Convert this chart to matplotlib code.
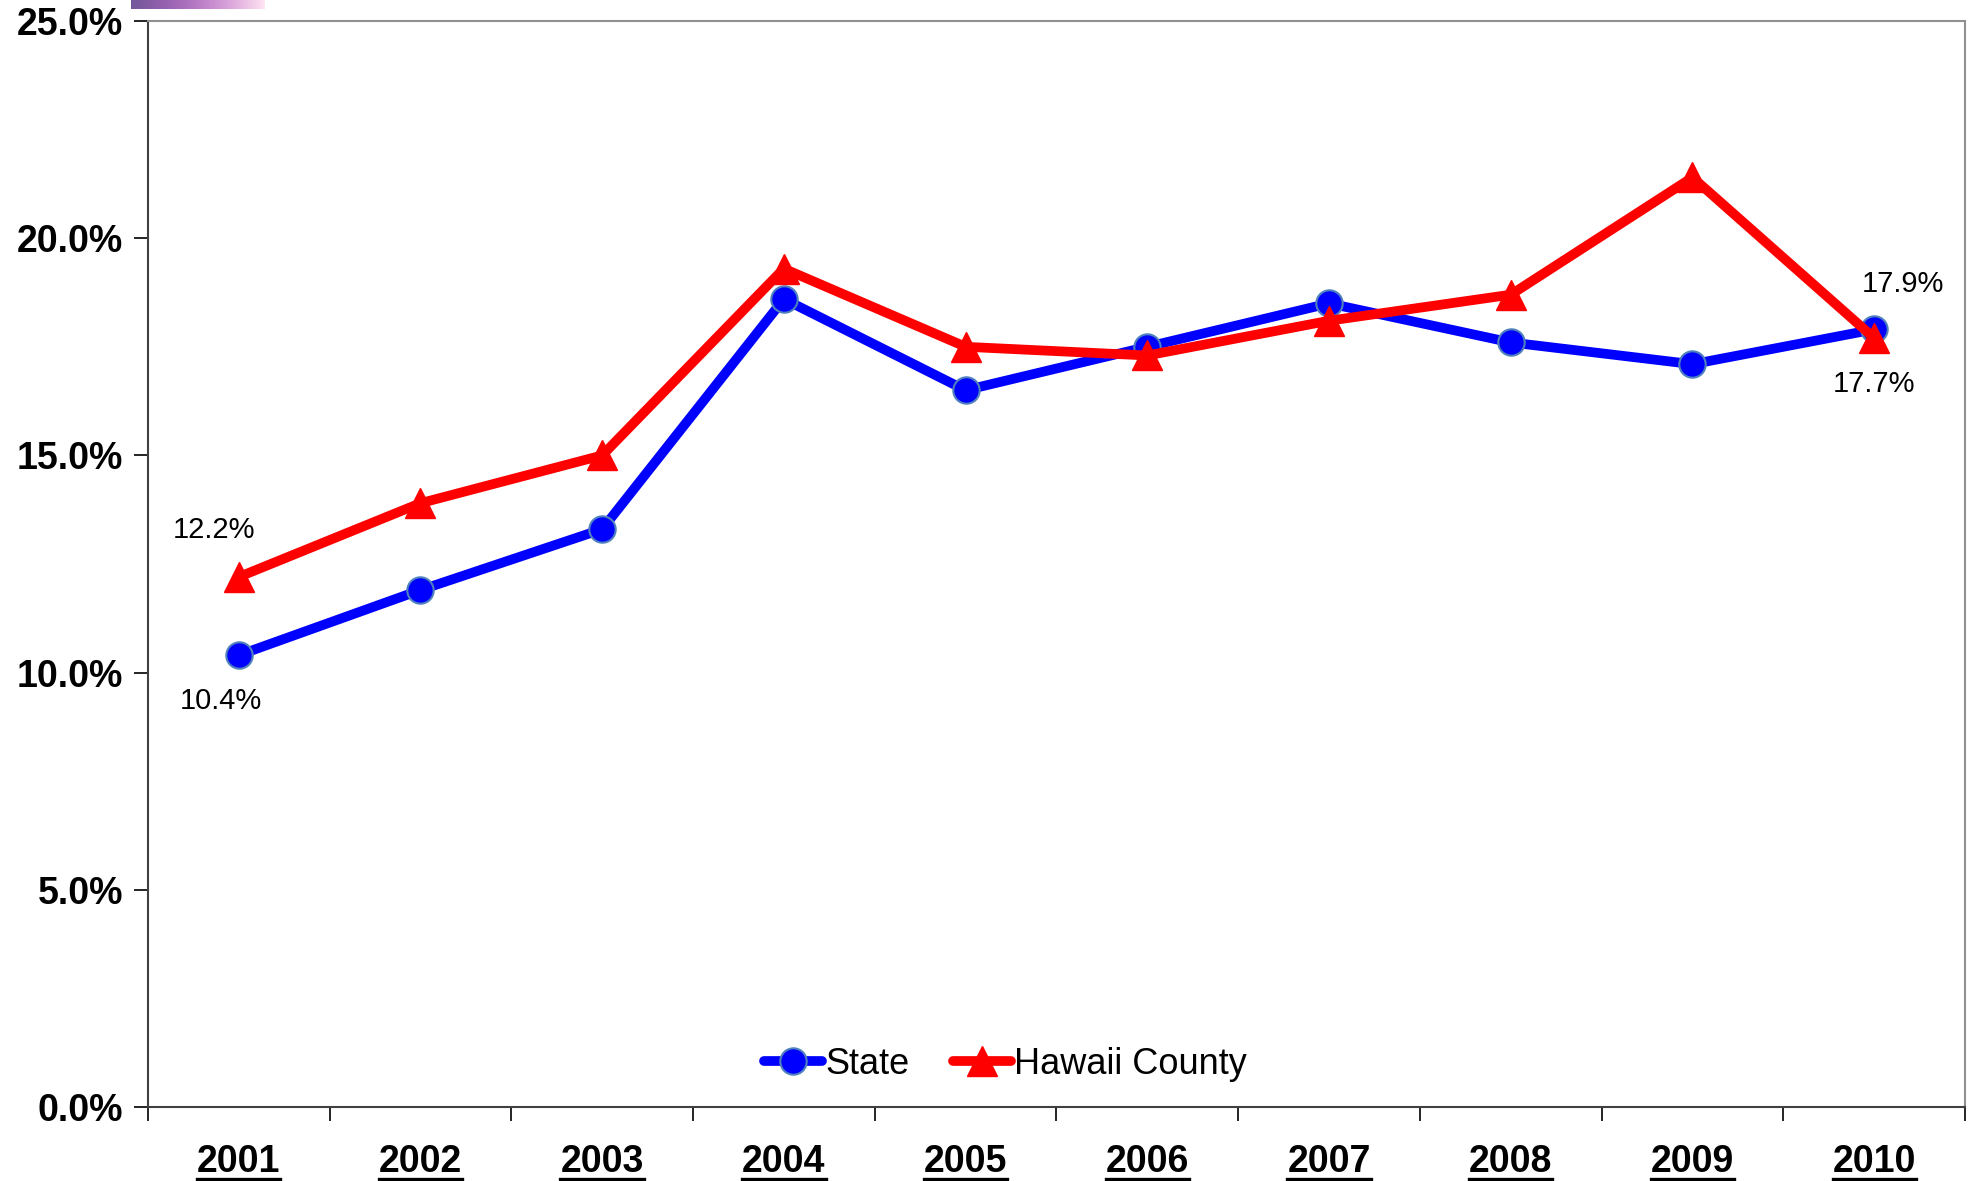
import numpy as np
import matplotlib
matplotlib.use("Agg")
import matplotlib.pyplot as plt
from matplotlib.lines import Line2D
from matplotlib.transforms import IdentityTransform

plt.rcParams['font.family'] = ['Liberation Sans', 'DejaVu Sans']

years = ["2001", "2002", "2003", "2004", "2005", "2006", "2007", "2008", "2009", "2010"]
state = [10.4, 11.9, 13.3, 18.6, 16.5, 17.5, 18.5, 17.6, 17.1, 17.9]
hawaii = [12.2, 13.9, 15.0, 19.3, 17.5, 17.3, 18.1, 18.7, 21.4, 17.7]
yticks = [0, 5, 10, 15, 20, 25]

fig = plt.figure(figsize=(19.71, 11.81), dpi=100)
ax = fig.add_axes([0.075, 0.0627, 0.922, 0.9195])

x = np.arange(len(years))
ax.plot(x, state, color="#0000FF", lw=7, marker="o", ms=19,
        markerfacecolor="#0000FF", markeredgecolor="#4F81BD", markeredgewidth=1.5,
        label="State", solid_capstyle="round", zorder=3)
ax.plot(x, hawaii, color="#FF0000", lw=7, marker="^", ms=22,
        markerfacecolor="#FF0000", markeredgecolor="#FF0000",
        label="Hawaii County", solid_capstyle="round", zorder=4)

# data labels at the ends
lab = dict(fontsize=21, ha="center", va="center", textcoords="offset points")
ax.annotate(f"{hawaii[0]:.1f}%", (x[0], hawaii[0]), xytext=(-18, 34), **lab)
ax.annotate(f"{state[0]:.1f}%", (x[0], state[0]), xytext=(-13, -33), **lab)
ax.annotate(f"{state[-1]:.1f}%", (x[-1], state[-1]), xytext=(21, 33), **lab)
ax.annotate(f"{hawaii[-1]:.1f}%", (x[-1], hawaii[-1]), xytext=(0, -33), **lab)

ax.set_xlim(-0.5, len(years) - 0.5)
ax.set_ylim(0, 25)
ax.set_yticks(yticks)
ax.set_yticklabels([f"{v:.1f}%" for v in yticks], fontsize=27, fontweight="bold")
ax.tick_params(axis="y", length=10, width=1.2, pad=8, direction="out")

ax.set_xticks(np.arange(-0.5, len(years), 1.0))
ax.set_xticklabels([])
ax.set_xticks(x, minor=True)
ax.set_xticklabels(years, minor=True, fontsize=27, fontweight="bold")
ax.tick_params(axis="x", which="major", length=10, width=1.2, direction="out")
ax.tick_params(axis="x", which="minor", length=0, pad=27)

ax.spines["left"].set_color("#404040")
ax.spines["bottom"].set_color("#404040")
ax.spines["top"].set_color("#909090")
ax.spines["right"].set_color("#909090")
for s in ax.spines.values():
    s.set_linewidth(1.5)

ax.legend(loc="center", bbox_to_anchor=(0.472, 0.039), ncol=2, frameon=False,
          fontsize=26, handlelength=1.6, handletextpad=0.1, columnspacing=1.2,
          borderaxespad=0)

# small picture strip at top-left
strip = fig.add_axes([131 / 1971, 1 - 9 / 1181, 134 / 1971, 9 / 1181])
grad = np.linspace(0, 1, 200)
rgb = np.stack([0.45 + 0.55 * grad, 0.35 + 0.55 * grad ** 2, 0.6 + 0.35 * grad], axis=-1)
strip.imshow(rgb[None, :, :], aspect="auto")
strip.axis("off")

# underline the year labels
fig.canvas.draw()
renderer = fig.canvas.get_renderer()
for t in ax.get_xticklabels(minor=True):
    bb = t.get_window_extent(renderer)
    yline = bb.y0 + 1
    fig.add_artist(Line2D([bb.x0, bb.x1], [yline, yline], color="black", lw=2.4,
                          transform=IdentityTransform(), clip_on=False))

fig.savefig("out.png", dpi=100)
